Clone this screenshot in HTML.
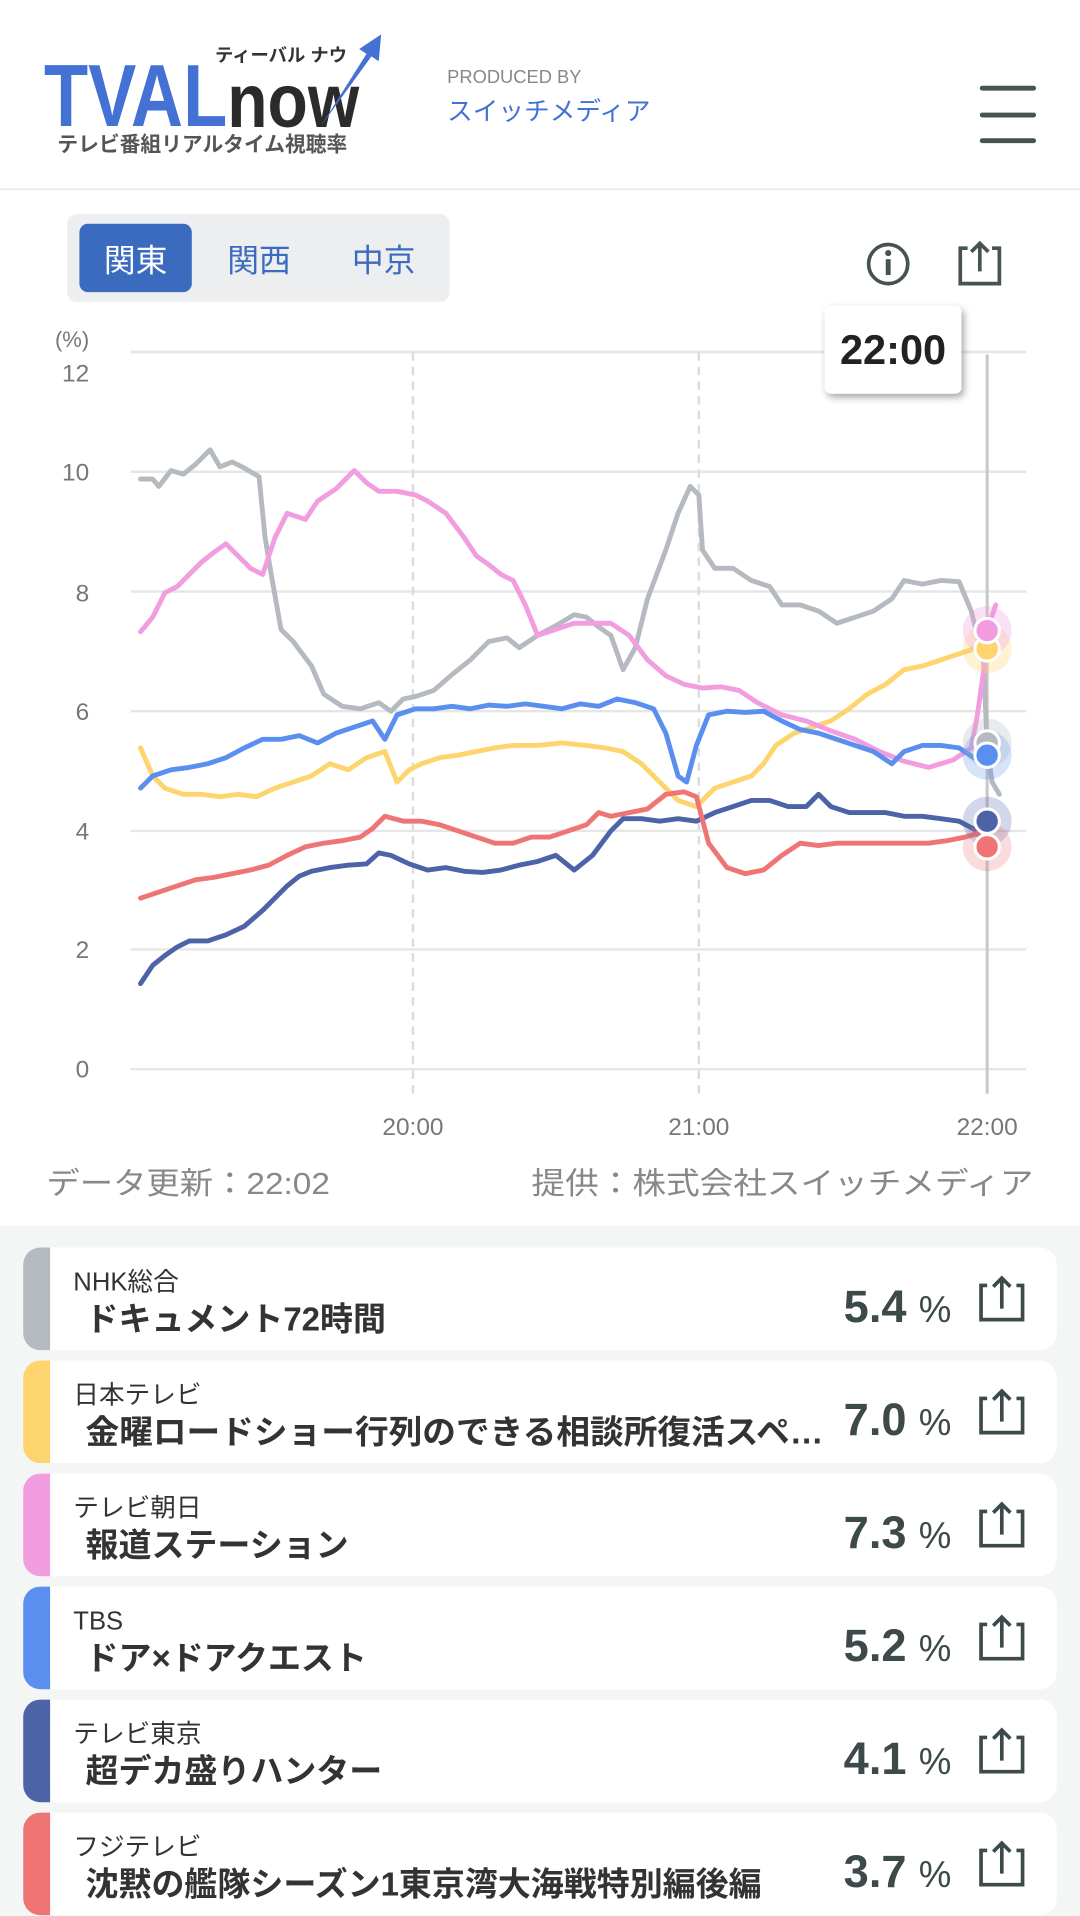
<!DOCTYPE html>
<html><head><meta charset="utf-8"><style>
html,body{margin:0;padding:0;background:#fff}
svg{display:block}
text{font-family:"Liberation Sans","Noto Sans CJK JP",sans-serif}
</style></head><body>
<svg width="1080" height="1916" viewBox="0 0 884 1568" xmlns="http://www.w3.org/2000/svg">
<defs><filter id="sh" x="-30%" y="-30%" width="160%" height="160%"><feDropShadow dx="2" dy="3" stdDeviation="3" flood-color="#000" flood-opacity="0.35"/></filter></defs>
<rect width="884" height="1568" fill="#fff"/>
<!-- header -->
<text x="36" y="103" font-size="72" font-weight="bold" fill="#4472d4" textLength="150" lengthAdjust="spacingAndGlyphs">TVAL</text>
<text x="186" y="104" font-size="62" font-weight="bold" fill="#2b2b2b" textLength="108" lengthAdjust="spacingAndGlyphs">now</text>
<path d="M262 104 L300 44 L294 40 L312 28 L310 50 L304 46 Z" fill="#4472d4"/>
<text x="176" y="50" font-size="15" font-weight="bold" fill="#333">ティーバル ナウ</text>
<text x="47" y="124" font-size="17" font-weight="bold" fill="#555">テレビ番組リアルタイム視聴率</text>
<text x="366" y="68" font-size="15" fill="#888">PRODUCED BY</text>
<text x="366" y="98" font-size="21" fill="#4472d4">スイッチメディア</text>
<rect x="802" y="70" width="46" height="4" rx="2" fill="#455352"/>
<rect x="802" y="92" width="46" height="4" rx="2" fill="#455352"/>
<rect x="802" y="113" width="46" height="4" rx="2" fill="#455352"/>
<rect x="0" y="154" width="884" height="1.5" fill="#e8e8e8"/>
<!-- tabs -->
<rect x="55" y="175" width="313" height="72" rx="8" fill="#eceef0"/>
<rect x="65" y="183" width="92" height="56" rx="7" fill="#3a6bbf"/>
<text x="111" y="222" font-size="26" fill="#fff" text-anchor="middle">関東</text>
<text x="212" y="222" font-size="26" fill="#3a6bbf" text-anchor="middle">関西</text>
<text x="314" y="222" font-size="26" fill="#3a6bbf" text-anchor="middle">中京</text>
<circle cx="727" cy="216" r="16" fill="none" stroke="#455352" stroke-width="3"/>
<circle cx="727" cy="207" r="2.5" fill="#455352"/>
<rect x="725" y="212" width="4" height="13" fill="#455352"/>
<path d="M792 203 L786 203 L786 232 L818 232 L818 203 L812 203" fill="none" stroke="#455352" stroke-width="3"/>
<path d="M802 222 L802 199 M795 206 L802 199 L809 206" fill="none" stroke="#455352" stroke-width="3"/>
<!-- chart grid -->
<g stroke="#e6e6e6" stroke-width="2">
<line x1="107" y1="288" x2="840" y2="288"/><line x1="107" y1="386" x2="840" y2="386"/><line x1="107" y1="484" x2="840" y2="484"/><line x1="107" y1="582" x2="840" y2="582"/><line x1="107" y1="680" x2="840" y2="680"/><line x1="107" y1="777" x2="840" y2="777"/><line x1="107" y1="875" x2="840" y2="875"/>
</g>
<g stroke="#dcdcdc" stroke-width="2" stroke-dasharray="7,5"><line x1="338" y1="288" x2="338" y2="895"/><line x1="572" y1="288" x2="572" y2="895"/></g>
<g font-size="20" fill="#777" text-anchor="end">
<text x="73" y="284" font-size="18">(%)</text>
<text x="73" y="312">12</text><text x="73" y="393">10</text><text x="73" y="492">8</text><text x="73" y="589">6</text><text x="73" y="687">4</text><text x="73" y="784">2</text><text x="73" y="882">0</text>
</g>
<g font-size="20" fill="#777" text-anchor="middle"><text x="338" y="929">20:00</text><text x="572" y="929">21:00</text><text x="808" y="929">22:00</text></g>
<line x1="808" y1="290" x2="808" y2="895" stroke="#c8c8c8" stroke-width="2.5"/>
<g fill="none" stroke-width="4" stroke-linejoin="round" stroke-linecap="round">
<polyline stroke="#b5b9c0" points="115,392 125,392 130,398 140,385 150,388 160,380 172,368 180,382 190,378 200,383 212,390 217,440 222,470 230,515 240,525 255,545 265,568 280,578 295,580 310,575 320,582 330,572 340,570 355,565 370,552 385,540 400,525 415,522 425,530 440,520 455,512 470,503 480,505 490,513 500,520 510,548 520,530 530,490 545,450 555,420 565,398 572,405 575,450 585,465 600,465 615,475 630,480 640,495 655,495 670,500 685,510 700,505 715,500 730,490 740,475 755,478 770,475 785,476 795,500 805,540 808,610 812,640 818,650"/>
<polyline stroke="#fdd46e" points="115,612 125,635 135,645 150,650 165,650 180,652 195,650 210,652 225,645 240,640 255,635 270,625 285,630 300,620 315,615 325,640 335,630 345,625 360,620 375,618 390,615 405,612 420,610 440,610 460,608 480,610 495,612 510,615 525,625 540,640 555,655 570,660 585,645 600,640 615,635 625,625 635,610 650,600 665,595 680,590 695,580 710,568 725,560 740,548 755,545 770,540 785,535 800,530 808,531"/>
<polyline stroke="#f29de0" points="115,517 125,505 135,485 145,480 155,470 165,460 175,452 185,445 195,455 205,465 215,470 225,440 235,420 250,425 260,410 275,400 290,385 300,395 310,402 325,402 340,405 350,410 365,420 380,440 390,455 400,462 410,470 420,475 430,495 440,520 455,515 470,510 485,510 500,510 515,520 530,540 545,553 560,560 575,563 590,562 605,565 620,575 640,585 660,590 680,598 700,605 720,615 740,623 760,628 780,622 795,612 800,585 805,550 808,516 815,495"/>
<polyline stroke="#5b8fef" points="115,645 125,635 140,630 155,628 170,625 185,620 200,612 215,605 230,605 245,602 260,608 275,600 290,595 305,590 315,605 325,585 340,580 355,580 370,578 385,580 400,577 415,578 430,576 445,578 460,580 475,576 490,578 505,572 520,575 535,580 545,600 555,635 562,640 570,610 580,585 595,582 610,583 625,582 640,590 655,597 670,600 685,605 700,610 715,615 730,625 740,615 755,610 770,610 785,612 800,622 808,618"/>
<polyline stroke="#4d63a8" points="115,805 125,790 135,782 145,775 155,770 170,770 185,765 200,758 215,745 225,735 235,725 245,717 255,713 270,710 285,708 300,707 310,698 320,700 335,707 350,712 365,710 380,713 395,714 410,712 425,708 440,705 455,700 470,712 485,700 500,680 510,670 525,670 540,672 555,670 570,672 585,665 600,660 615,655 630,655 645,660 660,660 670,650 680,660 695,665 710,665 725,665 740,668 755,668 770,670 785,672 800,680 808,672"/>
<polyline stroke="#ef7575" points="115,735 130,730 145,725 160,720 175,718 190,715 205,712 220,708 235,700 250,693 265,690 280,688 295,685 305,678 315,668 330,672 345,672 360,675 375,680 390,685 405,690 420,690 435,685 450,685 465,680 480,675 490,665 500,668 515,665 530,662 545,650 560,648 570,652 580,690 595,710 610,715 625,712 640,700 655,690 670,692 685,690 700,690 715,690 730,690 745,690 760,690 775,688 790,685 800,682 808,693"/>
</g>
<g stroke="#fff" stroke-width="2.5">
<circle cx="808" cy="531" r="20" fill="#fdd46e" fill-opacity="0.3" stroke="none"/>
<circle cx="808" cy="516" r="20" fill="#f29de0" fill-opacity="0.3" stroke="none"/>
<circle cx="808" cy="608" r="20" fill="#b5b9c0" fill-opacity="0.3" stroke="none"/>
<circle cx="808" cy="618" r="20" fill="#5b8fef" fill-opacity="0.25" stroke="none"/>
<circle cx="808" cy="672" r="20" fill="#4d63a8" fill-opacity="0.25" stroke="none"/>
<circle cx="808" cy="693" r="20" fill="#ef7575" fill-opacity="0.25" stroke="none"/>
<circle cx="808" cy="531" r="10" fill="#fdd46e"/>
<circle cx="808" cy="516" r="10" fill="#f29de0"/>
<circle cx="808" cy="608" r="10" fill="#b5b9c0"/>
<circle cx="808" cy="618" r="10" fill="#5b8fef"/>
<circle cx="808" cy="672" r="10" fill="#4d63a8"/>
<circle cx="808" cy="693" r="10" fill="#ef7575"/>
</g>
<rect x="675" y="250" width="112" height="72" rx="5" fill="#fff" filter="url(#sh)"/>
<text x="731" y="298" font-size="34" font-weight="bold" fill="#222" text-anchor="middle">22:00</text>
<text x="38" y="977" font-size="25" fill="#888" textLength="232" lengthAdjust="spacingAndGlyphs">データ更新：22:02</text>
<text x="846" y="977" font-size="25" fill="#888" text-anchor="end" textLength="411" lengthAdjust="spacingAndGlyphs">提供：株式会社スイッチメディア</text>
<!-- list -->
<rect x="0" y="1003" width="884" height="565" fill="#f4f5f5"/>
<g>
<g transform="translate(0,0)">
<rect x="19" y="1021" width="846" height="84" rx="14" fill="#fff"/><path d="M33 1021 H41 V1105 H33 A14 14 0 0 1 19 1091 V1035 A14 14 0 0 1 33 1021Z" fill="#b5b9c0"/>
<text x="60" y="1056" font-size="21" fill="#333">NHK総合</text><text x="70" y="1089" font-size="27" font-weight="bold" fill="#333">ドキュメント72時間</text>
<text x="742" y="1082" font-size="37" font-weight="bold" fill="#3d4a4a" text-anchor="end">5.4</text><text x="752" y="1082" font-size="30" fill="#3d4a4a">%</text>
</g>
<g transform="translate(0,92.5)">
<rect x="19" y="1021" width="846" height="84" rx="14" fill="#fff"/><path d="M33 1021 H41 V1105 H33 A14 14 0 0 1 19 1091 V1035 A14 14 0 0 1 33 1021Z" fill="#fdd46e"/>
<text x="60" y="1056" font-size="21" fill="#333">日本テレビ</text><text x="70" y="1089" font-size="27" font-weight="bold" fill="#333" textLength="604" lengthAdjust="spacingAndGlyphs">金曜ロードショー行列のできる相談所復活スペ…</text>
<text x="742" y="1082" font-size="37" font-weight="bold" fill="#3d4a4a" text-anchor="end">7.0</text><text x="752" y="1082" font-size="30" fill="#3d4a4a">%</text>
</g>
<g transform="translate(0,185)">
<rect x="19" y="1021" width="846" height="84" rx="14" fill="#fff"/><path d="M33 1021 H41 V1105 H33 A14 14 0 0 1 19 1091 V1035 A14 14 0 0 1 33 1021Z" fill="#f29de0"/>
<text x="60" y="1056" font-size="21" fill="#333">テレビ朝日</text><text x="70" y="1089" font-size="27" font-weight="bold" fill="#333">報道ステーション</text>
<text x="742" y="1082" font-size="37" font-weight="bold" fill="#3d4a4a" text-anchor="end">7.3</text><text x="752" y="1082" font-size="30" fill="#3d4a4a">%</text>
</g>
<g transform="translate(0,277.5)">
<rect x="19" y="1021" width="846" height="84" rx="14" fill="#fff"/><path d="M33 1021 H41 V1105 H33 A14 14 0 0 1 19 1091 V1035 A14 14 0 0 1 33 1021Z" fill="#5b8fef"/>
<text x="60" y="1056" font-size="21" fill="#333">TBS</text><text x="70" y="1089" font-size="27" font-weight="bold" fill="#333">ドア×ドアクエスト</text>
<text x="742" y="1082" font-size="37" font-weight="bold" fill="#3d4a4a" text-anchor="end">5.2</text><text x="752" y="1082" font-size="30" fill="#3d4a4a">%</text>
</g>
<g transform="translate(0,370)">
<rect x="19" y="1021" width="846" height="84" rx="14" fill="#fff"/><path d="M33 1021 H41 V1105 H33 A14 14 0 0 1 19 1091 V1035 A14 14 0 0 1 33 1021Z" fill="#4d63a8"/>
<text x="60" y="1056" font-size="21" fill="#333">テレビ東京</text><text x="70" y="1089" font-size="27" font-weight="bold" fill="#333">超デカ盛りハンター</text>
<text x="742" y="1082" font-size="37" font-weight="bold" fill="#3d4a4a" text-anchor="end">4.1</text><text x="752" y="1082" font-size="30" fill="#3d4a4a">%</text>
</g>
<g transform="translate(0,462.5)">
<rect x="19" y="1021" width="846" height="84" rx="14" fill="#fff"/><path d="M33 1021 H41 V1105 H33 A14 14 0 0 1 19 1091 V1035 A14 14 0 0 1 33 1021Z" fill="#ef7575"/>
<text x="60" y="1056" font-size="21" fill="#333">フジテレビ</text><text x="70" y="1089" font-size="27" font-weight="bold" fill="#333">沈黙の艦隊シーズン1東京湾大海戦特別編後編</text>
<text x="742" y="1082" font-size="37" font-weight="bold" fill="#3d4a4a" text-anchor="end">3.7</text><text x="752" y="1082" font-size="30" fill="#3d4a4a">%</text>
</g>
</g>
<g fill="none" stroke="#3d4a4a" stroke-width="3">
<g><path d="M808 1052 L803 1052 L803 1080 L837 1080 L837 1052 L832 1052"/><path d="M820 1071 L820 1046 M813 1053 L820 1046 L827 1053"/></g>
<g transform="translate(0,92.5)"><path d="M808 1052 L803 1052 L803 1080 L837 1080 L837 1052 L832 1052"/><path d="M820 1071 L820 1046 M813 1053 L820 1046 L827 1053"/></g>
<g transform="translate(0,185)"><path d="M808 1052 L803 1052 L803 1080 L837 1080 L837 1052 L832 1052"/><path d="M820 1071 L820 1046 M813 1053 L820 1046 L827 1053"/></g>
<g transform="translate(0,277.5)"><path d="M808 1052 L803 1052 L803 1080 L837 1080 L837 1052 L832 1052"/><path d="M820 1071 L820 1046 M813 1053 L820 1046 L827 1053"/></g>
<g transform="translate(0,370)"><path d="M808 1052 L803 1052 L803 1080 L837 1080 L837 1052 L832 1052"/><path d="M820 1071 L820 1046 M813 1053 L820 1046 L827 1053"/></g>
<g transform="translate(0,462.5)"><path d="M808 1052 L803 1052 L803 1080 L837 1080 L837 1052 L832 1052"/><path d="M820 1071 L820 1046 M813 1053 L820 1046 L827 1053"/></g>
</g>
</svg>
</body></html>
